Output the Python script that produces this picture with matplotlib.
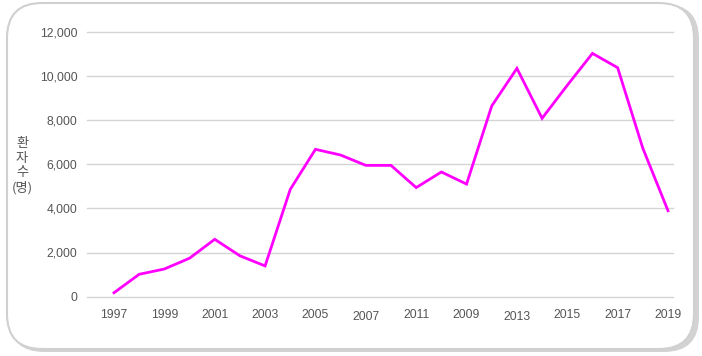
import matplotlib
matplotlib.use("Agg")
import matplotlib.pyplot as plt
from matplotlib.patches import FancyBboxPatch

years = list(range(1997, 2020))
patients = [170, 1010, 1250, 1740, 2600, 1850, 1390, 4870, 6690, 6430, 5960,
            5960, 4950, 5660, 5110, 8660, 10370, 8100, 9600, 11050, 10400, 6740, 3900]
tick_pos = [1997, 1999, 2001, 2003, 2005, 2007, 2009, 2011, 2013, 2015, 2017, 2019]
tick_labels = ["1997", "1999", "2001", "2003", "2005", "2007", "2011", "2009",
               "2013", "2015", "2017", "2019"]
y_ticks = [0, 2000, 4000, 6000, 8000, 10000, 12000]
y_label = "환\n자\n수\n(명)"

W, H = 702, 356
fig = plt.figure(figsize=(W / 100, H / 100), dpi=100)
fig.patch.set_facecolor("white")

# rounded frame with shadow
shadow = FancyBboxPatch((9 / W, 1 - 352 / H), 690 / W, 348 / H,
                        boxstyle="round,pad=0,rounding_size=0.05",
                        transform=fig.transFigure, facecolor="#d2d2d2",
                        edgecolor="none", zorder=-3, mutation_aspect=W / H)
fig.patches.append(shadow)
frame = FancyBboxPatch((7 / W, 1 - 349 / H), 687 / W, 346 / H,
                       boxstyle="round,pad=0,rounding_size=0.05",
                       transform=fig.transFigure, facecolor="white",
                       edgecolor="#d0d0d0", linewidth=1.5, zorder=-2,
                       mutation_aspect=W / H)
fig.patches.append(frame)

ax = fig.add_axes([87 / W, 1 - 296.5 / H, (673 - 87) / W, (296.5 - 32.5) / H])
ax.set_facecolor("none")
ax.plot(years, patients, color="#ff00ff", linewidth=2.0, solid_joinstyle="miter",
        zorder=3, clip_on=False)
ax.set_xlim(1997 - 27 / 25.18, 2019 + 5 / 25.18)
ax.set_ylim(0, 12000)
ax.set_yticks(y_ticks)
ax.set_yticklabels([f"{v:,}" for v in y_ticks])
ax.set_xticks(tick_pos)
ax.set_xticklabels(tick_labels)
for v in y_ticks:
    ax.axhline(v, color="#d4d4d4", linewidth=1.0, zorder=1, clip_on=False)
for s in ax.spines.values():
    s.set_visible(False)
ax.tick_params(length=0, labelsize=8.7, colors="#555555")
ax.tick_params(axis="y", pad=7)
ax.tick_params(axis="x", pad=9)
for lab in ax.get_xticklabels() + ax.get_yticklabels():
    lab.set_family(["Liberation Sans", "DejaVu Sans"])
for lab in ax.get_xticklabels():
    if lab.get_text() in ("2007", "2013"):
        lab.set_y(-0.008)

fig.text(22 / W, 1 - 166 / H, y_label, family=["Noto Sans CJK KR", "DejaVu Sans"],
         fontsize=9.5, color="#555555", ha="center", va="center", linespacing=1.15)

fig.savefig("out.png", dpi=100, facecolor="white")
